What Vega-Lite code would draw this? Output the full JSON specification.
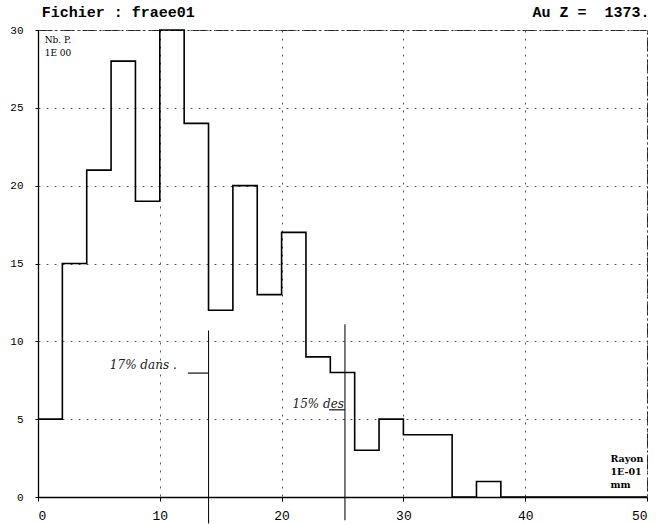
{
  "$schema": "https://vega.github.io/schema/vega-lite/v6.json",
  "width": 609,
  "height": 467,
  "autosize": {"type": "none"},
  "padding": {"left": 38, "top": 30, "right": 14, "bottom": 27},
  "background": "white",
  "config": {
    "view": {"stroke": "#222", "strokeWidth": 1, "strokeDash": [14, 3, 2, 3]},
    "font": "DejaVu Serif"
  },
  "datasets": {
    "hist": [
      {"x": 0, "n": 5}, {"x": 2, "n": 15}, {"x": 4, "n": 21}, {"x": 6, "n": 28},
      {"x": 8, "n": 19}, {"x": 10, "n": 30}, {"x": 12, "n": 24}, {"x": 14, "n": 12},
      {"x": 16, "n": 20}, {"x": 18, "n": 13}, {"x": 20, "n": 17}, {"x": 22, "n": 9},
      {"x": 24, "n": 8}, {"x": 26, "n": 3}, {"x": 28, "n": 5}, {"x": 30, "n": 4},
      {"x": 32, "n": 4}, {"x": 34, "n": 0}, {"x": 36, "n": 1}, {"x": 38, "n": 0},
      {"x": 40, "n": 0}, {"x": 50, "n": 0}
    ],
    "vrules": [
      {"x": 14, "y": 10.7, "y2": -1.7},
      {"x": 25.2, "y": 11.1, "y2": -1.5}
    ],
    "arrows": [
      {"x": 12.3, "x2": 14, "y": 7.96},
      {"x": 23.9, "x2": 25.2, "y": 5.6}
    ],
    "notes": [
      {"x": 5.9, "y": 8.5, "label": "17%   dans ."},
      {"x": 20.9, "y": 6.0, "label": "15%  des"}
    ],
    "titleText": [
      {"x": 0.3, "y": 30.85, "label": "Fichier : fraee01"}
    ],
    "smallText": [
      {"x": 0.55, "y": 29.15, "label": "Nb. P."},
      {"x": 0.55, "y": 28.35, "label": "1E 00"}
    ],
    "unitText": [
      {"x": 47.0, "y": 2.25, "label": "Rayon"},
      {"x": 47.0, "y": 1.42, "label": "1E-01"},
      {"x": 47.0, "y": 0.6, "label": "mm"}
    ],
    "rightText": [
      {"x": 50.2, "y": 30.85, "label": "Au Z = \u00a01373."}
    ]
  },
  "layer": [
    {
      "data": {"name": "hist"},
      "mark": {"type": "line", "interpolate": "step-after", "color": "black", "strokeWidth": 1.6},
      "encoding": {
        "x": {
          "field": "x", "type": "quantitative",
          "scale": {"domain": [0, 50], "nice": false},
          "axis": {
            "values": [0, 10, 20, 30, 40, 50], "title": null,
            "domainColor": "black", "domainWidth": 1.3,
            "tickColor": "black", "tickSize": 4, "labelPadding": 8,
            "labelFontSize": 13, "labelColor": "black", "labelFont": "Liberation Mono",
            "grid": true, "gridColor": "#555", "gridDash": [2, 6], "gridWidth": 1
          }
        },
        "y": {
          "field": "n", "type": "quantitative",
          "scale": {"domain": [0, 30], "nice": false},
          "axis": {
            "values": [0, 5, 10, 15, 20, 25, 30], "title": null,
            "domainColor": "black", "domainWidth": 1.3,
            "tickColor": "black", "tickSize": 3, "labelPadding": 12,
            "labelFontSize": 11, "labelColor": "black", "labelFont": "Liberation Mono",
            "grid": true, "gridColor": "#555", "gridDash": [2, 6], "gridWidth": 1
          }
        }
      }
    },
    {
      "data": {"name": "vrules"},
      "mark": {"type": "rule", "color": "#111", "strokeWidth": 1.1},
      "encoding": {
        "x": {"field": "x", "type": "quantitative"},
        "y": {"field": "y", "type": "quantitative"},
        "y2": {"field": "y2"}
      }
    },
    {
      "data": {"name": "arrows"},
      "mark": {"type": "rule", "color": "#111", "strokeWidth": 1.2},
      "encoding": {
        "x": {"field": "x", "type": "quantitative"},
        "x2": {"field": "x2"},
        "y": {"field": "y", "type": "quantitative"}
      }
    },
    {
      "data": {"name": "notes"},
      "mark": {"type": "text", "align": "left", "baseline": "middle", "font": "DejaVu Serif", "fontStyle": "italic", "fontSize": 12, "color": "#222"},
      "encoding": {
        "x": {"field": "x", "type": "quantitative"},
        "y": {"field": "y", "type": "quantitative"},
        "text": {"field": "label"}
      }
    },
    {
      "data": {"name": "titleText"},
      "mark": {"type": "text", "align": "left", "baseline": "alphabetic", "font": "Liberation Mono", "fontWeight": "bold", "fontSize": 15, "color": "black"},
      "encoding": {
        "x": {"field": "x", "type": "quantitative"},
        "y": {"field": "y", "type": "quantitative"},
        "text": {"field": "label"}
      }
    },
    {
      "data": {"name": "smallText"},
      "mark": {"type": "text", "align": "left", "baseline": "alphabetic", "font": "DejaVu Serif", "fontSize": 9, "color": "black"},
      "encoding": {
        "x": {"field": "x", "type": "quantitative"},
        "y": {"field": "y", "type": "quantitative"},
        "text": {"field": "label"}
      }
    },
    {
      "data": {"name": "unitText"},
      "mark": {"type": "text", "align": "left", "baseline": "alphabetic", "font": "DejaVu Serif", "fontWeight": "bold", "fontSize": 9.5, "color": "black"},
      "encoding": {
        "x": {"field": "x", "type": "quantitative"},
        "y": {"field": "y", "type": "quantitative"},
        "text": {"field": "label"}
      }
    },
    {
      "data": {"name": "rightText"},
      "mark": {"type": "text", "align": "right", "baseline": "alphabetic", "font": "Liberation Mono", "fontWeight": "bold", "fontSize": 15, "color": "black"},
      "encoding": {
        "x": {"field": "x", "type": "quantitative"},
        "y": {"field": "y", "type": "quantitative"},
        "text": {"field": "label"}
      }
    }
  ]
}
